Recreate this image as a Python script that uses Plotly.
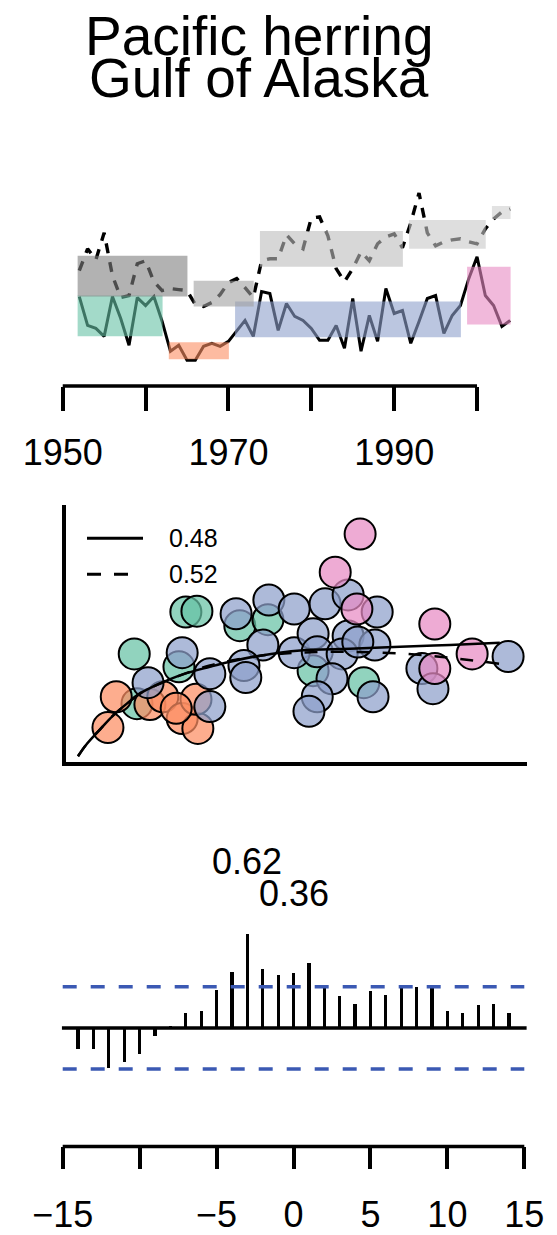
import plotly.graph_objects as go

FIG_W, FIG_H = 557, 1235
FONT = "Liberation Sans, Arial, sans-serif"

# ---------------- time series (standardised units) ----------------
years = list(range(1952, 2005))
solid_series = [1.10, -0.35, -0.50, -0.90, 1.10, 0.00, -1.35, 1.05, 0.65, 1.10, -0.15,
                -1.65, -1.35, -2.10, -2.10, -1.40, -1.25, -1.40, -1.15,
                -0.60, -0.10, -0.90, 1.35, 1.25, -0.60, 0.75, 0.10, -0.10, -0.50,
                -1.10, -1.10, -0.35, -1.50, 1.00, -1.65, 0.15, -1.15, 1.50, 0.25,
                0.40, -1.25, -0.15, 1.00, 1.15, -0.75, 0.15, 0.65,
                2.00, 3.10, 1.15, 0.65, -0.40, -0.10]
dashed_series = [2.40, 3.50, 2.95, 4.30, 2.15, 1.05, 1.15, 2.75, 2.90, 1.85, 1.40, 1.50, 1.45, 1.40,
                 0.70, 0.60, 0.80, 1.20, 1.80, 2.00, 1.55, 1.05,
                 2.90, 3.00, 3.00, 4.20, 3.75, 3.50, 5.05, 5.10, 4.15, 2.50, 1.85, 2.50,
                 3.35, 2.90, 3.75, 4.10, 4.25, 3.55,
                 4.80, 6.30, 4.30, 3.65, 3.85, 3.95, 4.00, 3.85, 3.75, 4.50,
                 5.00, 5.35, 5.50]

# regimes of the solid series
solid_regime_start = [1952, 1963, 1971, 1999]
solid_regime_end = [1962, 1970, 1998, 2004]
solid_regime_low = [-0.90, -2.05, -0.95, -0.30]
solid_regime_high = [1.15, -1.20, 0.85, 2.60]
regime_colors = ["#66c2a5", "#fc8d62", "#8da0cb", "#e78ac3"]

# regimes of the dashed series
dashed_regime_start = [1952, 1966, 1974, 1992, 2002]
dashed_regime_end = [1965, 1973, 1991, 2001, 2004]
dashed_regime_low = [1.10, 0.60, 2.60, 3.50, 5.00]
dashed_regime_high = [3.15, 1.90, 4.40, 4.95, 5.65]
dashed_regime_colors = ["#7f7f7f", "#a0a0a0", "#bdbdbd", "#c8c8c8", "#cfcfcf"]

year_ticks = [1950, 1960, 1970, 1980, 1990, 2000]
year_tick_text = ["1950", "", "1970", "", "1990", ""]

# ---------------- scatter, one list pair per regime ----------------
sc_x_green = [2.60, 2.84, 1.48, 2.45, 1.54, 3.77, 4.38, 5.36, 6.46]
sc_y_green = [3.51, 3.53, 2.53, 2.23, 1.37, 3.19, 3.33, 2.14, 1.86]
sc_x_orange = [1.09, 0.91, 1.82, 2.10, 2.52, 2.86, 2.82, 2.39]
sc_y_orange = [1.53, 0.81, 1.35, 1.53, 1.02, 0.79, 1.47, 1.26]
sc_x_blue = [3.69, 4.40, 4.95, 5.62, 6.12, 6.75, 4.27, 4.95, 2.52, 3.12, 3.86, 3.90,
             1.78, 3.12, 5.36, 6.12, 6.70, 5.45, 5.99, 5.77, 6.66, 5.45, 5.27, 9.59,
             7.72, 7.96, 6.33]
sc_y_blue = [3.47, 3.79, 3.58, 3.70, 3.91, 3.51, 2.74, 2.56, 2.56, 2.07, 2.26, 1.98,
             1.86, 1.30, 3.00, 2.95, 2.74, 2.58, 2.53, 1.95, 1.53, 1.53, 1.19, 2.47,
             2.19, 1.72, 2.81]
sc_x_pink = [6.38, 5.84, 6.31, 8.00, 8.81, 8.00]
sc_y_pink = [5.33, 4.44, 3.58, 3.23, 2.53, 2.19]

# fitted curves
fit_x = [0.26, 0.43, 0.74, 1.02, 1.32, 1.61, 2.04, 2.58, 3.12, 3.56, 4.21, 5.08,
         6.16, 7.25, 8.33, 9.41]
fit_solid_y = [0.14, 0.40, 0.77, 1.09, 1.37, 1.61, 1.84, 2.07, 2.23, 2.35, 2.49, 2.61,
               2.65, 2.70, 2.74, 2.79]
fit_dashed_y = [0.14, 0.40, 0.77, 1.09, 1.37, 1.61, 1.84, 2.07, 2.26, 2.37, 2.49, 2.56,
                2.58, 2.54, 2.44, 2.30]
fit_labels = ["0.48", "0.52"]

# ---------------- cross-correlation ----------------
lags = list(range(-14, 15))
ccf = [-0.14, -0.14, -0.26, -0.22, -0.17, -0.05, 0.01, 0.10, 0.11, 0.25, 0.37, 0.62,
       0.39, 0.35, 0.36,
       0.43, 0.27, 0.21, 0.16, 0.24, 0.22, 0.26, 0.27, 0.26, 0.11, 0.10, 0.15, 0.16, 0.10]
conf_limit = 0.27
lag_ticks = [-15, -10, -5, 0, 5, 10, 15]
lag_tick_text = ["\u221215", "", "\u22125", "0", "5", "10", "15"]


def py(px):
    """pixel row -> paper y"""
    return 1 - px / FIG_H


def pxx(px):
    """pixel column -> paper x"""
    return px / FIG_W


fig = go.Figure()

# ---- top panel: lines ----
fig.add_trace(go.Scatter(x=years, y=solid_series, mode="lines",
                         line=dict(color="black", width=3),
                         xaxis="x", yaxis="y", showlegend=False))
fig.add_trace(go.Scatter(x=years, y=dashed_series, mode="lines",
                         line=dict(color="black", width=3.4, dash="10px,9px"),
                         xaxis="x", yaxis="y", showlegend=False))

shapes = []
for s, e, lo, hi, c in zip(solid_regime_start, solid_regime_end, solid_regime_low,
                           solid_regime_high, regime_colors):
    shapes.append(dict(type="rect", xref="x", yref="y", x0=s - 0.2, x1=e + 0.05,
                       y0=lo, y1=hi, fillcolor=c, opacity=0.6, line_width=0,
                       layer="above"))
for s, e, lo, hi, c in zip(dashed_regime_start, dashed_regime_end, dashed_regime_low,
                           dashed_regime_high, dashed_regime_colors):
    shapes.append(dict(type="rect", xref="x", yref="y", x0=s - 0.2, x1=e + 0.05,
                       y0=lo, y1=hi, fillcolor=c, opacity=0.6, line_width=0,
                       layer="above"))
# trimmed x axis spine for the time axis
shapes.append(dict(type="line", xref="x", yref="y domain", x0=year_ticks[0],
                   x1=year_ticks[-1], y0=0, y1=0, line=dict(color="black", width=3.5)))

# ---- middle panel: scatter ----
for xs, ys, c in [(sc_x_green, sc_y_green, regime_colors[0]),
                  (sc_x_orange, sc_y_orange, regime_colors[1]),
                  (sc_x_blue, sc_y_blue, regime_colors[2]),
                  (sc_x_pink, sc_y_pink, regime_colors[3])]:
    r, g, b = int(c[1:3], 16), int(c[3:5], 16), int(c[5:7], 16)
    fig.add_trace(go.Scatter(x=xs, y=ys, mode="markers", xaxis="x2", yaxis="y2",
                             marker=dict(size=31, color=f"rgba({r},{g},{b},0.72)",
                                         line=dict(color="black", width=2)),
                             showlegend=False, cliponaxis=False))
fig.add_trace(go.Scatter(x=fit_x, y=fit_solid_y, mode="lines", xaxis="x2", yaxis="y2",
                         line=dict(color="black", width=2.5, shape="spline"),
                         showlegend=False))
fig.add_trace(go.Scatter(x=fit_x, y=fit_dashed_y, mode="lines", xaxis="x2", yaxis="y2",
                         line=dict(color="black", width=2.5, dash="13px,13px",
                                   shape="spline"),
                         showlegend=False))

# legend for the fitted curves
shapes.append(dict(type="line", xref="paper", yref="paper", x0=pxx(87), x1=pxx(143),
                   y0=py(541), y1=py(541), line=dict(color="black", width=3)))
shapes.append(dict(type="line", xref="paper", yref="paper", x0=pxx(87), x1=pxx(129),
                   y0=py(577), y1=py(577), line=dict(color="black", width=3,
                                                     dash="14px,13px")))

# ---- bottom panel: cross-correlation ----
fig.add_trace(go.Bar(x=lags, y=ccf, width=0.21, marker=dict(color="black", line_width=0),
                     xaxis="x3", yaxis="y3", showlegend=False))
shapes.append(dict(type="line", xref="x3", yref="y3", x0=-15.05, x1=15.15, y0=0, y1=0,
                   line=dict(color="black", width=3.5)))
for lvl in (conf_limit, -conf_limit):
    shapes.append(dict(type="line", xref="x3", yref="y3", x0=-15, x1=15, y0=lvl, y1=lvl,
                       line=dict(color="#3b59b3", width=3.5, dash="14px,14px")))
shapes.append(dict(type="line", xref="x3", yref="y3 domain", x0=lag_ticks[0],
                   x1=lag_ticks[-1], y0=0, y1=0, line=dict(color="black", width=3.5)))

imax = ccf.index(max(ccf))
i0 = lags.index(0)

annotations = [
    dict(text="Pacific herring", x=pxx(259), y=py(36), xref="paper", yref="paper",
         showarrow=False, font=dict(size=55, family=FONT, color="black"),
         xanchor="center", yanchor="middle"),
    dict(text="Gulf of Alaska", x=pxx(259), y=py(78), xref="paper", yref="paper",
         showarrow=False, font=dict(size=55, family=FONT, color="black"),
         xanchor="center", yanchor="middle"),
    dict(text=fit_labels[0], x=pxx(167), y=py(541), xref="paper", yref="paper",
         showarrow=False, font=dict(size=25, family=FONT, color="black"),
         xanchor="left", yanchor="middle"),
    dict(text=fit_labels[1], x=pxx(167), y=py(577), xref="paper", yref="paper",
         showarrow=False, font=dict(size=25, family=FONT, color="black"),
         xanchor="left", yanchor="middle"),
    dict(text=f"{ccf[imax]:.2f}", x=lags[imax], y=1.09, xref="x3", yref="y3",
         showarrow=False, font=dict(size=36, family=FONT, color="black"),
         xanchor="center", yanchor="middle"),
    dict(text=f"{ccf[i0]:.2f}", x=lags[i0], y=0.88, xref="x3", yref="y3",
         showarrow=False, font=dict(size=36, family=FONT, color="black"),
         xanchor="center", yanchor="middle"),
]

hidden = dict(showgrid=False, zeroline=False, showticklabels=False, ticks="",
              showline=False)

fig.update_layout(
    width=FIG_W, height=FIG_H,
    margin=dict(l=0, r=0, t=0, b=0),
    paper_bgcolor="white", plot_bgcolor="white",
    font=dict(family=FONT, color="black"),
    bargap=0,
    xaxis=dict(domain=[0, 1], range=[1942.43, 2009.65], anchor="y",
               tickmode="array", tickvals=year_ticks, ticktext=year_tick_text,
               ticks="outside", ticklen=24, tickwidth=3.5, tickcolor="black",
               tickfont=dict(size=36, family=FONT, color="black"),
               ticklabelstandoff=11,
               showline=False, showgrid=False, zeroline=False),
    yaxis=dict(domain=[py(388), py(180)], range=[-3.4, 7.0], anchor="x", **hidden),
    xaxis2=dict(domain=[pxx(66), pxx(527)], range=[0, 10], anchor="y2",
                showline=True, linewidth=3.5, linecolor="black",
                showgrid=False, zeroline=False, showticklabels=False, ticks=""),
    yaxis2=dict(domain=[py(766), py(507)], range=[0, 6.02], anchor="x2",
                showline=True, linewidth=3.5, linecolor="black",
                showgrid=False, zeroline=False, showticklabels=False, ticks=""),
    xaxis3=dict(domain=[0, 1], range=[-19.075, 17.125], anchor="y3",
                tickmode="array", tickvals=lag_ticks, ticktext=lag_tick_text,
                ticks="outside", ticklen=22, tickwidth=3.5, tickcolor="black",
                tickfont=dict(size=36, family=FONT, color="black"),
                ticklabelstandoff=14,
                showline=False, showgrid=False, zeroline=False),
    yaxis3=dict(domain=[py(1152), py(840)], range=[-0.778, 1.261], anchor="x3",
                **hidden),
    shapes=shapes,
    annotations=annotations,
)

fig.write_html("out.html")
